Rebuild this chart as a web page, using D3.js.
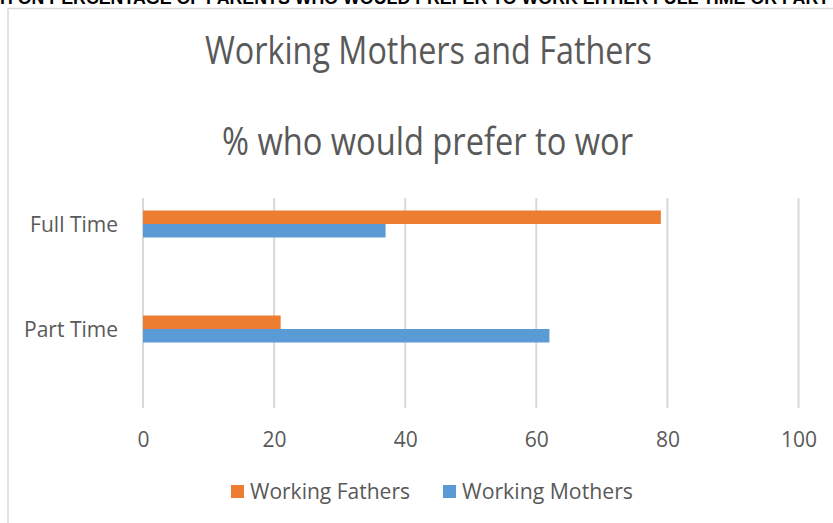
<!DOCTYPE html>
<html>
<head>
<meta charset="utf-8">
<script src="https://cdn.jsdelivr.net/npm/d3@7/dist/d3.min.js"></script>
<style>
  html, body { margin: 0; padding: 0; background: #fff; overflow: hidden; }
  svg { display: block; }
</style>
</head>
<body>
<svg id="chart" width="833" height="523"></svg>
<script>
// Data
const categories = ["Full Time", "Part Time"];
const seriesNames = ["Working Fathers", "Working Mothers"];
const fathers = [79, 21];
const mothers = [37, 62];
const xTicks = [0, 20, 40, 60, 80, 100];
const colors = ["#ED7D31", "#5B9BD5"];
const heading = "GRAPH ON PERCENTAGE OF PARENTS WHO WOULD PREFER TO WORK EITHER FULL TIME OR PART TIME";
const title1 = "Working Mothers and Fathers";
const title2 = "% who would prefer to wor";

const values = [fathers, mothers];
const font = "'Open Sans', sans-serif";
const textColor = "#595959";

const svg = d3.select("#chart");

// Page heading above the chart box (partly out of view)
const head = svg.append("text")
  .attr("y", 4)
  .attr("font-family", "'Liberation Sans', Arial, sans-serif")
  .attr("font-weight", "bold")
  .attr("font-size", 14)
  .attr("fill", "#000")
  .text(heading);
{
  const probe = svg.append("text").attr("font-family", "'Liberation Sans', Arial, sans-serif")
    .attr("font-weight", "bold").attr("font-size", 14);
  const pre = probe.text("GRAP").node().getComputedTextLength();
  const mid = probe.text("H ON PERCENTAGE OF PARENTS WHO WOULD PREFER TO WORK EITHER FULL TIME OR PART").node().getComputedTextLength();
  probe.remove();
  const k = 830 / mid;
  head.attr("font-size", 14 * k).attr("x", -pre * k);
}

// Chart box
svg.append("rect")
  .attr("x", 8).attr("y", 8.5)
  .attr("width", 900).attr("height", 600)
  .attr("fill", "#fff")
  .attr("stroke", "#D9D9D9").attr("stroke-width", 1.5);

// Two-line chart title, drawn slightly tall
function titleLine(txt, cx, baseline, width) {
  svg.append("g")
    .attr("transform", `translate(${cx},${baseline}) scale(1,1.15)`)
    .append("text")
    .attr("text-anchor", "middle")
    .attr("font-family", font).attr("font-size", 33)
    .attr("textLength", width).attr("lengthAdjust", "spacingAndGlyphs")
    .attr("fill", textColor)
    .text(txt);
}
titleLine(title1, 428.5, 64, 447);
titleLine(title2, 427.5, 155, 411);

// Scales
const x = d3.scaleLinear().domain([0, 100]).range([143, 798.5]);
const y = d3.scaleBand().domain(categories).range([171.5, 381.5]);
const barH = 13.5;
const ySeries = d3.scaleBand().domain(seriesNames)
  .range([-barH, barH]);

// Gridlines
const gridTop = 198, gridBottom = 408;
svg.append("g").selectAll("line")
  .data(xTicks)
  .join("line")
  .attr("x1", d => x(d)).attr("x2", d => x(d))
  .attr("y1", gridTop).attr("y2", gridBottom)
  .attr("stroke", "#D9D9D9").attr("stroke-width", 2);

// Bars
seriesNames.forEach((s, si) => {
  svg.append("g").selectAll("rect")
    .data(categories)
    .join("rect")
    .attr("x", x(0))
    .attr("y", c => y(c) + y.bandwidth() / 2 + ySeries(s))
    .attr("width", (c, i) => x(values[si][i]) - x(0))
    .attr("height", ySeries.bandwidth())
    .attr("fill", colors[si]);
});

// X axis labels
const xAxis = d3.axisBottom(x).tickValues(xTicks).tickSize(0).tickPadding(0);
const gx = svg.append("g").attr("transform", `translate(0,${gridBottom + 39})`).call(xAxis);
gx.select(".domain").remove();
gx.selectAll("text")
  .attr("font-family", font).attr("font-size", 21)
  .attr("fill", textColor)
  .attr("dy", 0);

// Category labels
const yAxis = d3.axisLeft(y).tickSize(0).tickPadding(0);
const gy = svg.append("g").attr("transform", "translate(118,0)").call(yAxis);
gy.select(".domain").remove();
gy.selectAll("text")
  .attr("font-family", font).attr("font-size", 21)
  .attr("fill", textColor)
  .attr("dy", "0.36em");

// Legend
const legend = svg.append("g");
const legendItems = [
  { name: seriesNames[0], color: colors[0], x: 231, w: 160 },
  { name: seriesNames[1], color: colors[1], x: 443, w: 171 }
];
legendItems.forEach(it => {
  legend.append("rect").attr("x", it.x).attr("y", 485).attr("width", 13).attr("height", 13).attr("fill", it.color);
  legend.append("text").attr("x", it.x + 19).attr("y", 498.5)
    .attr("font-family", font).attr("font-size", 21.5).attr("fill", textColor)
    .attr("textLength", it.w).attr("lengthAdjust", "spacingAndGlyphs")
    .text(it.name);
});
</script>
</body>
</html>
